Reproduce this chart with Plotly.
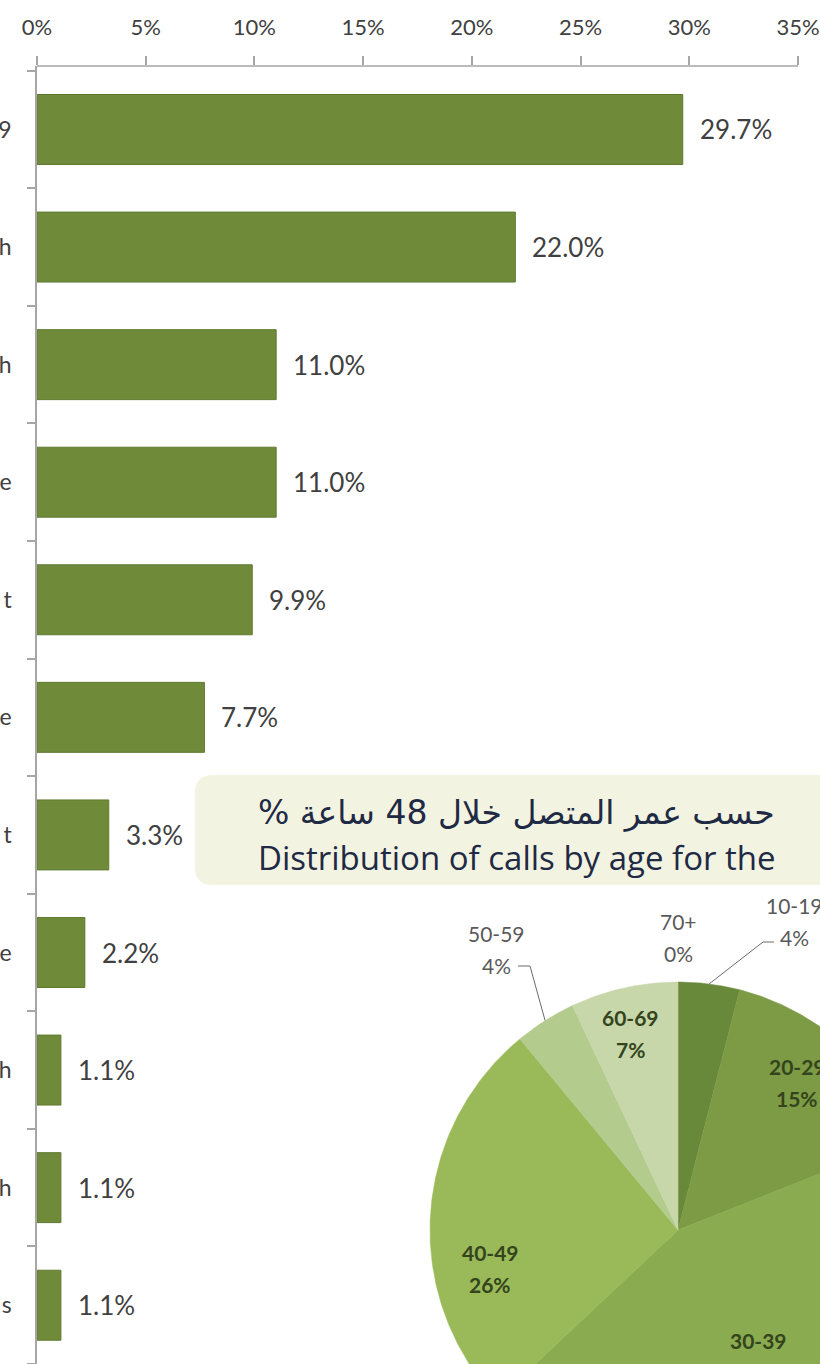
import math
import plotly.graph_objects as go

# ---------------- data ----------------
CAT_LABELS = ["9", "h", "h", "e", "t", "e", "t", "e", "h", "h", "s"]
BAR_VALUES = [29.7, 22.0, 11.0, 11.0, 9.9, 7.7, 3.3, 2.2, 1.1, 1.1, 1.1]
X_TICKS = [0, 5, 10, 15, 20, 25, 30, 35]

AGE_GROUPS = ["10-19", "20-29", "30-39", "40-49", "50-59", "60-69", "70+"]
AGE_SHARES = [4, 15, 44, 26, 4, 7, 0]

PIE_TITLE_AR = "% حسب عمر المتصل خلال 48 ساعة"
PIE_TITLE_EN = "Distribution of calls by age for the"

# ---------------- styles ----------------
W, H = 820, 1364
ML, MR, MT, MB = 37, 0, 66, 0
BAR_COLOR = "#6f8b3a"
AXIS_COLOR = "#a6a6a6"
TEXT_COLOR = "#404040"
PIE_COLORS = ["#68883a", "#7d9b45", "#8aab4f", "#9aba59", "#b3cb8d", "#c7d7aa", "#d8e4c4"]
PIE_CX, PIE_CY, PIE_R = 678, 1230, 248
# label anchor positions (pixels) and whether inside the pie
LABEL_POS = {
    "10-19": (794, 921, False), "20-29": (797, 1082, True), "30-39": (758, 1356, True),
    "40-49": (490, 1268, True), "50-59": (496, 949, False), "60-69": (630, 1033, True),
    "70+": (678, 937, False),
}
LEADERS = {"10-19": [(763, 942), (774, 942)], "50-59": [(530, 966), (518, 966)]}

# x range so that 35% lands at x=798 px
px_per_pct = (798 - ML) / 35.0
x_max = (W - ML - MR) / px_per_pct

fig = go.Figure()

n = len(CAT_LABELS)
fig.add_trace(go.Bar(
    x=BAR_VALUES, y=list(range(n)), orientation="h",
    marker=dict(color=BAR_COLOR, line=dict(color="#5f7a30", width=1)),
    hoverinfo="skip", showlegend=False,
))

annotations = []
for i, v in enumerate(BAR_VALUES):
    annotations.append(dict(
        x=v, y=i, xref="x", yref="y", text=f"{v:.1f}%", showarrow=False,
        xanchor="left", yanchor="middle", xshift=15,
        font=dict(family="Lato, Open Sans, sans-serif", size=26, color=TEXT_COLOR),
    ))

# ---------------- pie (drawn on a pixel-unit overlay axis) ----------------
total = float(sum(AGE_SHARES))
cum = 0.0
mid_angles = {}
for g, s, c in zip(AGE_GROUPS, AGE_SHARES, PIE_COLORS):
    a0 = cum / total * 360.0
    cum += s
    a1 = cum / total * 360.0
    mid_angles[g] = (a0 + a1) / 2.0
    if s <= 0:
        continue
    steps = max(2, int((a1 - a0) * 2))
    xs, ys = [PIE_CX], [PIE_CY]
    for k in range(steps + 1):
        a = math.radians(a0 + (a1 - a0) * k / steps)
        xs.append(PIE_CX + PIE_R * math.sin(a))
        ys.append(PIE_CY - PIE_R * math.cos(a))
    xs.append(PIE_CX)
    ys.append(PIE_CY)
    fig.add_trace(go.Scatter(
        x=xs, y=ys, xaxis="x2", yaxis="y2", mode="lines", fill="toself",
        fillcolor=c, line=dict(color=c, width=0.5), hoverinfo="skip", showlegend=False,
    ))

shapes = []
# top axis line (only up to 35%)
shapes.append(dict(type="line", xref="x", yref="paper", x0=0, x1=35, y0=1, y1=1,
                   line=dict(color=AXIS_COLOR, width=1.5)))
# rounded title box
bx0, bx1, by0, by1, rr = 195, 860, 775, 885, 18
path = (f"M {bx0+rr},{by0} L {bx1-rr},{by0} Q {bx1},{by0} {bx1},{by0+rr} "
        f"L {bx1},{by1-rr} Q {bx1},{by1} {bx1-rr},{by1} L {bx0+rr},{by1} "
        f"Q {bx0},{by1} {bx0},{by1-rr} L {bx0},{by0+rr} Q {bx0},{by0} {bx0+rr},{by0} Z")
shapes.append(dict(type="path", xref="x2", yref="y2", path=path,
                   fillcolor="#f3f3e2", line=dict(width=0), layer="below"))
# leader lines
for g, pts in LEADERS.items():
    a = math.radians(mid_angles[g])
    sx, sy = PIE_CX + PIE_R * math.sin(a), PIE_CY - PIE_R * math.cos(a)
    p = f"M {sx},{sy} " + " ".join(f"L {x},{y}" for x, y in pts)
    shapes.append(dict(type="path", xref="x2", yref="y2", path=p,
                       line=dict(color="#6b6b6b", width=1)))

# pie title text
annotations.append(dict(x=256, y=812, xref="x2", yref="y2", text=PIE_TITLE_AR,
                        showarrow=False, xanchor="left", yanchor="middle",
                        font=dict(family="DejaVu Sans, sans-serif", size=33, color="#1f2a44")))
annotations.append(dict(x=256, y=857, xref="x2", yref="y2", text=PIE_TITLE_EN,
                        showarrow=False, xanchor="left", yanchor="middle",
                        font=dict(family="Open Sans, sans-serif", size=33, color="#1f2a44")))

# pie labels
for g, s in zip(AGE_GROUPS, AGE_SHARES):
    lx, ly, inside = LABEL_POS[g]
    col = "#34441c" if inside else "#595959"
    wt = "bold" if inside else "normal"
    for txt, dy in ((g, 16), (f"{s}%", -16)):
        annotations.append(dict(x=lx, y=ly, xref="x2", yref="y2", text=txt, showarrow=False,
                                yshift=dy,
                                font=dict(family="Lato, sans-serif", size=21, color=col,
                                          weight=wt)))

fig.update_layout(
    width=W, height=H, margin=dict(l=ML, r=MR, t=MT, b=MB, pad=0, autoexpand=False),
    paper_bgcolor="white", plot_bgcolor="rgba(0,0,0,0)",
    bargap=0.405,
    xaxis=dict(
        side="top", range=[0, x_max], tickmode="array", tickvals=X_TICKS,
        ticktext=[f"{t}%" for t in X_TICKS], ticks="outside", ticklen=9,
        tickcolor=AXIS_COLOR, tickwidth=1.5, showline=False, showgrid=False, zeroline=False,
        tickfont=dict(family="Lato, Open Sans, sans-serif", size=22, color=TEXT_COLOR),
        ticklabelstandoff=12, fixedrange=True, automargin=False,
    ),
    yaxis=dict(
        range=[n - 0.5, -0.54], tickmode="array", tickvals=list(range(n)),
        ticktext=CAT_LABELS, ticks="", showline=True, linecolor=AXIS_COLOR, linewidth=1.5,
        showgrid=False, zeroline=False,
        minor=dict(ticks="outside", ticklen=8, tickcolor=AXIS_COLOR, tickwidth=1.5,
                   tickmode="linear", tick0=0.5, dtick=1, showgrid=False),
        tickfont=dict(family="Lato, Open Sans, sans-serif", size=23, color=TEXT_COLOR),
        ticklabelstandoff=19, fixedrange=True, automargin=False,
    ),
    xaxis2=dict(domain=[0, 1], range=[ML, W], visible=False, anchor="y2", fixedrange=True,
                automargin=False),
    yaxis2=dict(domain=[0, 1], range=[H, MT], visible=False, anchor="x2", fixedrange=True,
                automargin=False),
    shapes=shapes, annotations=annotations,
)

fig.write_html(
    "out.html",
    config={"displayModeBar": False},
    post_script="document.body.style.margin='0';document.body.style.overflow='hidden';",
)
